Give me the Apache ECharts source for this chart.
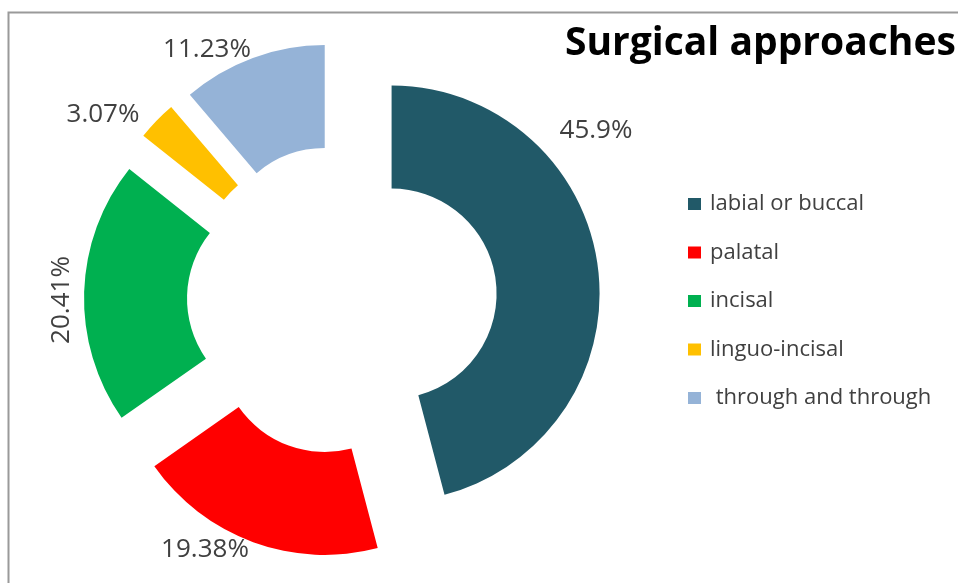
<!DOCTYPE html>
<html>
<head>
<meta charset="utf-8">
<script src="https://cdn.jsdelivr.net/npm/echarts@6/dist/echarts.min.js"></script>
<style>
html,body{margin:0;padding:0;background:#fff;}
#chart{width:958px;height:583px;}
</style>
</head>
<body>
<div id="chart"></div>
<script>
const categories = ['labial or buccal', 'palatal', 'incisal', 'linguo-incisal', 'through and through'];
const percentages = [45.9, 19.38, 20.41, 3.07, 11.23];
const sliceColors = ['#215968', '#FF0000', '#00B050', '#FFC000', '#95B3D7'];
const titleText = 'Surgical approaches';

// label placement (layout only)
const labelSpots = [
  {x: 596, y: 131, rotate: 0},
  {x: 205, y: 550, rotate: 0},
  {x: 62, y: 300, rotate: 90},
  {x: 103, y: 115, rotate: 0},
  {x: 207, y: 50, rotate: 0}
];

const chart = echarts.init(document.getElementById('chart'), null, {renderer: 'canvas'});
const fontFam = '"Open Sans", "Noto Sans", sans-serif';
const pieCenter = [342, 300];
const pieRadius = [105, 208];

chart.setOption({
  animation: false,
  backgroundColor: '#ffffff',
  graphic: [{
    type: 'rect',
    left: 6, top: 10,
    shape: {width: 960, height: 580},
    style: {fill: 'none', stroke: '#9a9a9a', lineWidth: 2},
    silent: true
  }],
  title: {
    text: titleText,
    left: 560, top: 19,
    textStyle: {fontFamily: fontFam, fontSize: 39, fontWeight: 'bold', color: '#000000'}
  },
  legend: {
    orient: 'vertical',
    left: 683, top: 187,
    icon: 'rect',
    itemWidth: 13, itemHeight: 12,
    itemGap: 24.5,
    data: categories,
    formatter: function (name) {
      return name === categories[categories.length - 1] ? ' ' + name : name;
    },
    textStyle: {fontFamily: fontFam, fontSize: 22, color: '#404040', lineHeight: 24, padding: [0, 0, 0, 4]}
  },
  series: [{
    type: 'pie',
    center: pieCenter,
    radius: pieRadius,
    startAngle: 90,
    clockwise: true,
    selectedMode: 'multiple',
    selectedOffset: 50,
    emphasis: {disabled: true},
    select: {itemStyle: {borderWidth: 0}},
    label: {show: false},
    labelLine: {show: false},
    data: categories.map(function (c, i) {
      return {name: c, value: percentages[i], selected: true, itemStyle: {color: sliceColors[i]}};
    })
  }, {
    type: 'pie',
    center: pieCenter,
    radius: pieRadius,
    startAngle: 90,
    clockwise: true,
    silent: true,
    selectedMode: false,
    emphasis: {disabled: true},
    itemStyle: {color: 'rgba(0,0,0,0)'},
    avoidLabelOverlap: false,
    label: {
      show: true,
      position: 'outside',
      formatter: '{c}%',
      fontFamily: fontFam,
      fontSize: 26,
      color: '#404040'
    },
    labelLine: {show: false},
    labelLayout: function (p) {
      const s = labelSpots[p.dataIndex];
      return {x: s.x, y: s.y, rotate: s.rotate, align: 'center', verticalAlign: 'middle'};
    },
    data: categories.map(function (c, i) {
      return {name: c, value: percentages[i]};
    })
  }]
});
</script>
</body>
</html>
